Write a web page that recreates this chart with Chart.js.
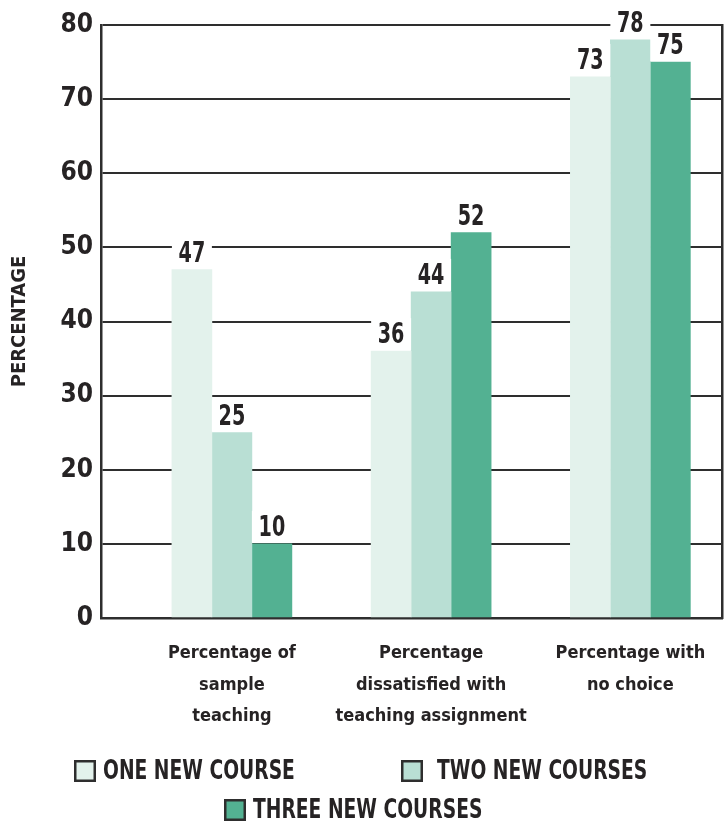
<!DOCTYPE html>
<html><head><meta charset="utf-8">
<script src="https://cdn.jsdelivr.net/npm/chart.js@4"></script>
<style>html,body{margin:0;padding:0;background:#fff}#wrap{width:724px;height:826px;position:relative}</style>
</head><body><div id="wrap"><canvas id="c"></canvas></div>
<script>
// ---- data ----
const categories = [["Percentage of", "sample", "teaching"], ["Percentage", "dissatisfied with", "teaching assignment"], ["Percentage with", "no choice"]];
const seriesNames = ["ONE NEW COURSE", "TWO NEW COURSES", "THREE NEW COURSES"];
const oneNewCourse = [47, 36, 73];
const twoNewCourses = [25, 44, 78];
const threeNewCourses = [10, 52, 75];
const yTickValues = [0, 10, 20, 30, 40, 50, 60, 70, 80];
const yTitle = "PERCENTAGE";

// ---- style ----
const FONT = "'DejaVu Sans Condensed', 'DejaVu Sans', sans-serif";
const TEXT = "#262324";
const LINE = "#2e2e2e";
const colors = ["#e3f2ec", "#b9dfd4", "#53b192"];
const legendPos = [{x: 74, y: 760, tx: 103}, {x: 401, y: 760, tx: 437}, {x: 224, y: 799, tx: 253}];

Chart.defaults.font.family = FONT;
Chart.defaults.color = TEXT;

const seriesValues = [oneNewCourse, twoNewCourses, threeNewCourses];
const datasets = seriesValues.map((vals, s) => ({
  label: seriesNames[s],
  data: vals.map((v, i) => ({x: i + 1, y: v})),
  backgroundColor: colors[s],
  borderWidth: 0,
  barThickness: 40
}));

// condensed text helper (horizontal squeeze)
function squeezedText(ctx, text, x, y, sx) {
  ctx.save();
  ctx.translate(x, y);
  ctx.scale(sx, 1);
  ctx.fillText(text, 0, 0);
  ctx.restore();
}

const valueLabels = {
  id: 'valueLabels',
  afterDatasetsDraw(chart) {
    const ctx = chart.ctx;
    ctx.save();
    ctx.font = `bold 28px ${FONT}`;
    ctx.textAlign = 'center';
    ctx.textBaseline = 'alphabetic';
    chart.data.datasets.forEach((ds, di) => {
      const meta = chart.getDatasetMeta(di);
      meta.data.forEach((bar, i) => {
        const w = bar.width;
        ctx.fillStyle = '#fff';
        ctx.fillRect(bar.x - w / 2, bar.y - 33, w, 32);
        ctx.fillStyle = TEXT;
        squeezedText(ctx, String(ds.data[i].y), bar.x, bar.y - 8, 0.76);
      });
    });
    ctx.restore();
  }
};

const customLegend = {
  id: 'customLegend',
  afterDraw(chart) {
    const ctx = chart.ctx;
    ctx.save();
    ctx.font = `bold 27px ${FONT}`;
    ctx.textAlign = 'left';
    ctx.textBaseline = 'middle';
    chart.data.datasets.forEach((ds, i) => {
      const p = legendPos[i];
      ctx.fillStyle = ds.backgroundColor;
      ctx.fillRect(p.x, p.y, 22, 22);
      ctx.strokeStyle = LINE;
      ctx.lineWidth = 2.5;
      ctx.strokeRect(p.x + 1.25, p.y + 1.25, 19.5, 19.5);
      ctx.fillStyle = TEXT;
      squeezedText(ctx, ds.label, p.tx, p.y + 12, 0.77);
    });
    ctx.restore();
  }
};

new Chart(document.getElementById('c'), {
  type: 'bar',
  data: {datasets},
  plugins: [valueLabels, customLegend],
  options: {
    responsive: true,
    maintainAspectRatio: false,
    animation: false,
    layout: {padding: {top: 25, right: 2, bottom: 78, left: 0}},
    plugins: {legend: {display: false}, tooltip: {enabled: false}},
    scales: {
      x: {
        type: 'linear',
        offset: false,
        min: 0.343,
        max: 3.46,
        afterBuildTicks: s => { s.ticks = categories.map((c, i) => ({value: i + 1})); },
        afterFit: s => { s.height = 130; s.paddingLeft = 0; s.paddingRight = 0; },
        grid: {display: false, drawTicks: false},
        border: {display: true, color: LINE, width: 2.5},
        ticks: {
          autoSkip: false, maxRotation: 0, padding: 20,
          font: {size: 18, weight: 'bold', lineHeight: 1.75},
          callback: v => categories[Math.round(v) - 1]
        }
      },
      y: {
        min: 0, max: 80,
        afterBuildTicks: s => { s.ticks = yTickValues.map(v => ({value: v})); },
        afterFit: s => { s.width = 101; },
        grid: {color: LINE, lineWidth: 2, drawTicks: false},
        border: {display: true, color: LINE, width: 2.5},
        ticks: {padding: 8, font: {size: 26, weight: 'bold'}},
        title: {display: true, text: yTitle, font: {size: 20, weight: 'bold'}, padding: {top: 8, bottom: 0}}
      },
      y2: {
        position: 'right',
        min: 0, max: 1,
        afterFit: s => { s.width = 0; },
        grid: {display: false, drawTicks: false},
        border: {display: true, color: LINE, width: 2.5},
        ticks: {display: false}
      }
    }
  }
});
</script>
</body></html>
